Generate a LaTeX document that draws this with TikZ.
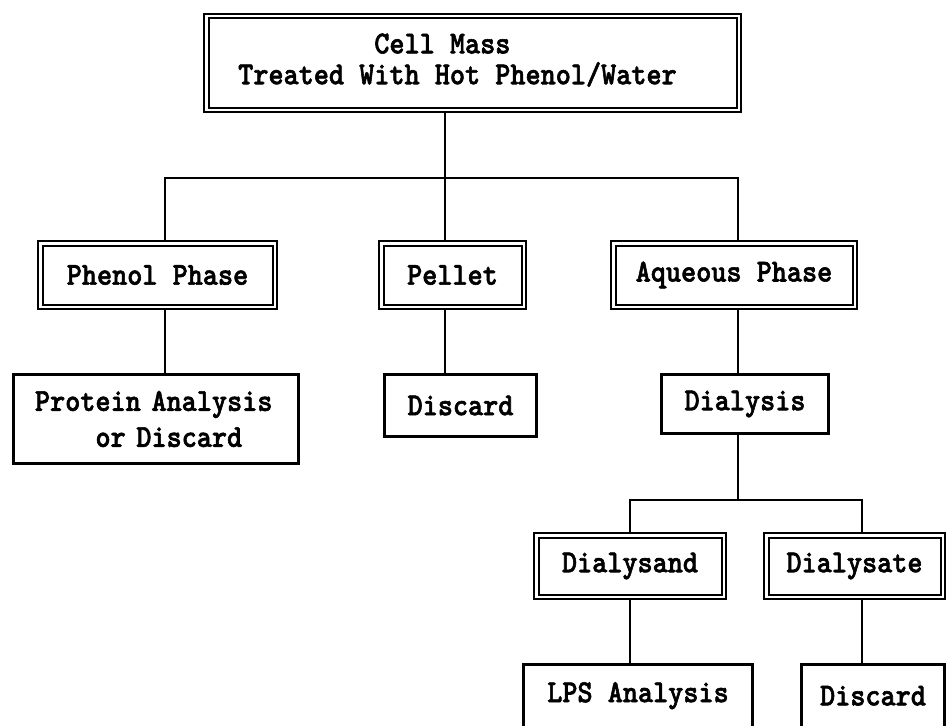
\documentclass[tikz,border=0pt]{standalone}
\usepackage{fontspec}
\newfontfamily\boxfont{lmmonolt10-bold.otf}[FakeBold=1.8, FakeStretch=0.9]
\begin{document}
\begin{tikzpicture}[x=1pt,y=-1pt,
  lbl/.style={font=\boxfont\fontsize{32}{29}\selectfont, inner sep=0pt},
  dbox/.style={lbl, draw, double, double distance=2.5pt, line width=2pt},
  sbox/.style={lbl, draw, line width=2.8pt},
  link/.style={line width=2.8pt}]
\useasboundingbox (0,0) rectangle (949,725);
\clip (0,0) rectangle (949,725);

% first stage
\node[dbox, minimum width=532.5pt, minimum height=93.5pt]
  (top) at (472.5,63)
  {\raisebox{4pt}{\begin{tabular}{@{}l@{}}\phantom{Treated W}Cell Mass\\Treated With Hot Phenol/Water\end{tabular}}\kern30pt};

% phases after separation
\node[dbox, minimum width=234.5pt, minimum height=63.5pt] (phenol)  at (157.5,275) {Phenol Phase};
\node[dbox, minimum width=142.5pt, minimum height=63.5pt] (pellet)  at (452.5,275) {Pellet};
\node[dbox, minimum width=241.5pt, minimum height=63.5pt] (aqueous) at (734,275)   {Aqueous Phase};

% treatment of each phase
\node[sbox, minimum width=285.2pt, minimum height=89.2pt, align=left, text width=242pt,
  font=\boxfont\fontsize{32}{36}\selectfont]
  (protein) at (156,419) {Protein Analysis\\\phantom{Prot}or Discard};
\node[sbox, minimum width=152.2pt, minimum height=62.2pt] (discardA) at (460.5,405.5) {Discard};
\node[sbox, minimum width=167.2pt, minimum height=59.2pt] (dialysis) at (745,404)     {Dialysis};

% dialysis fractions
\node[dbox, minimum width=187.5pt, minimum height=61.5pt] (dialysand) at (630,566)   {Dialysand};
\node[dbox, minimum width=176.5pt, minimum height=61.5pt] (dialysate) at (854.5,566) {Dialysate};

\node[sbox, minimum width=229.2pt, minimum height=62.6pt] (lps)      at (638,695.7) {LPS Analysis};
\node[sbox, minimum width=143.2pt, minimum height=62.6pt] (discardB) at (873,695.7) {Discard};

% branch points
\coordinate (j1) at (445,178);
\coordinate (bL) at (165,178);
\coordinate (bR) at (738,178);
\coordinate (j2) at (738,500);
\coordinate (cL) at (630,500);
\coordinate (cR) at (862,500);

% connectors
\draw[link] (j1 |- top.south) -- (j1 |- pellet.north);
\draw[link] (bL |- phenol.north) -- (bL) -- (bR) -- (bR |- aqueous.north);
\draw[link] (bL |- phenol.south) -- (bL |- protein.north);
\draw[link] (j1 |- pellet.south) -- (j1 |- discardA.north);
\draw[link] (bR |- aqueous.south) -- (bR |- dialysis.north);
\draw[link] (j2 |- dialysis.south) -- (j2);
\draw[link] (cL |- dialysand.north) -- (cL) -- (cR) -- (cR |- dialysate.north);
\draw[link] (cL |- dialysand.south) -- (cL |- lps.north);
\draw[link] (cR |- dialysate.south) -- (cR |- discardB.north);
\end{tikzpicture}
\end{document}
